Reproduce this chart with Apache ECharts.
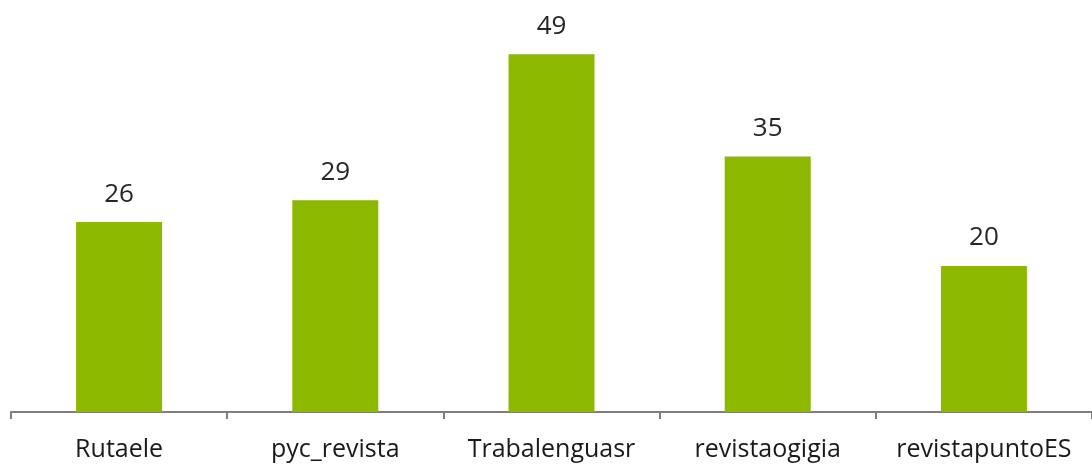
<!DOCTYPE html>
<html>
<head>
<meta charset="utf-8">
<script src="https://cdn.jsdelivr.net/npm/echarts@6/dist/echarts.min.js"></script>
<style>
  html, body { margin: 0; padding: 0; background: #fff; }
  #main { width: 1092px; height: 466px; }
</style>
</head>
<body>
<div id="main"></div>
<script>
var categories = ['Rutaele', 'pyc_revista', 'Trabalenguasr', 'revistaogigia', 'revistapuntoES'];
var values = [26, 29, 49, 35, 20];

var myChart = echarts.init(document.getElementById('main'));
myChart.setOption({
    animation: false,
    grid: { left: 11, right: -4, top: 3, bottom: 54, containLabel: false },
    xAxis: {
        type: 'category',
        data: categories,
        axisLine: { lineStyle: { color: '#7f7f7f', width: 2 } },
        axisTick: { show: true, interval: 0, length: 7, lineStyle: { color: '#7f7f7f', width: 2 } },
        axisLabel: {
            interval: 0,
            hideOverlap: false,
            color: '#1a1a1a',
            fontFamily: 'Open Sans',
            fontSize: 25,
            margin: 25
        }
    },
    yAxis: {
        type: 'value',
        min: 0,
        max: 56,
        show: false,
        splitLine: { show: false }
    },
    series: [{
        type: 'bar',
        data: values,
        barWidth: 86,
        itemStyle: { color: '#8cb800' },
        label: {
            show: true,
            position: 'top',
            distance: 15,
            color: '#262626',
            fontFamily: 'Open Sans',
            fontSize: 26
        }
    }]
});
</script>
</body>
</html>
